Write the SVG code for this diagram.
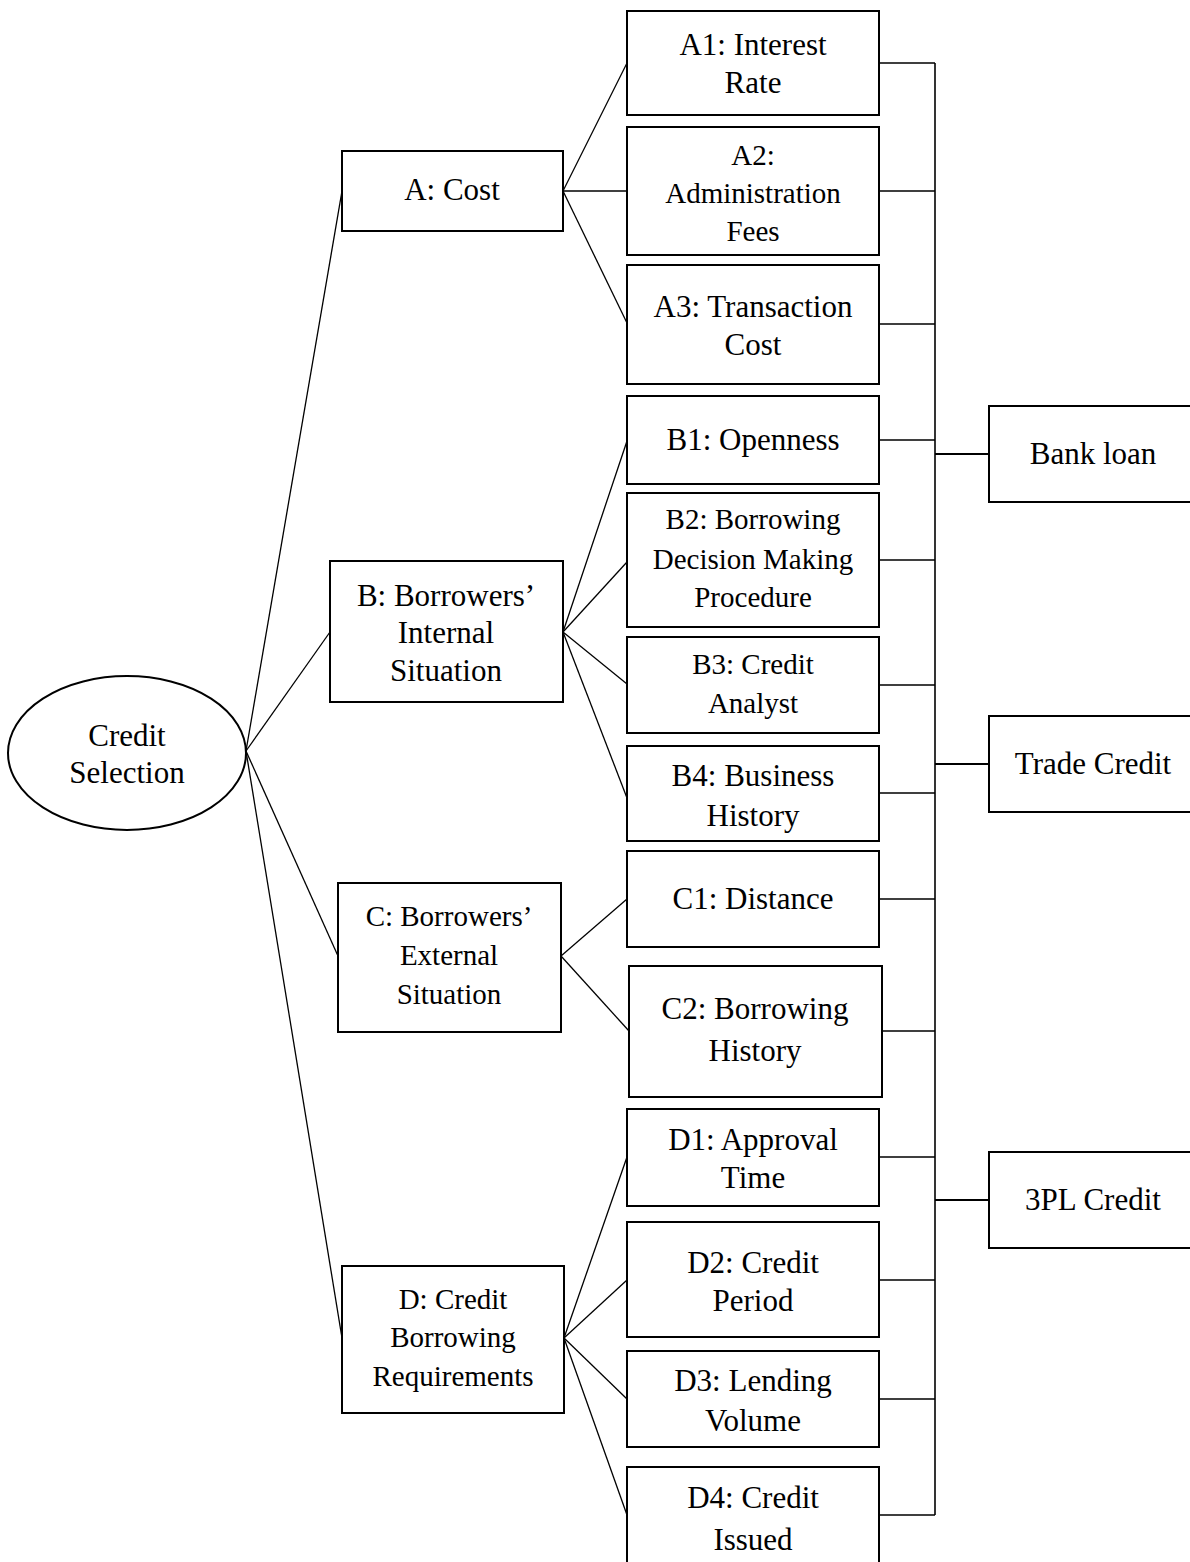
<svg xmlns="http://www.w3.org/2000/svg" width="1190" height="1562" viewBox="0 0 1190 1562">
  <style>
    .box { fill: #ffffff; stroke: #000000; stroke-width: 2; }
    .t { font-family: "Liberation Serif", "Times New Roman", serif; font-size: 31px; fill: #000000; text-anchor: middle; }
    .s { font-size: 29px; }
    .ln { stroke: #000000; stroke-width: 1.3; fill: none; }
  </style>
  <rect width="1190" height="1562" fill="#ffffff"/>

  <!-- connectors -->
  <g id="connectors" class="ln">
    <!-- root to criteria -->
    <line x1="246" y1="751" x2="342" y2="191"/>
    <line x1="246" y1="751" x2="330" y2="632"/>
    <line x1="246" y1="751" x2="338" y2="956"/>
    <line x1="246" y1="751" x2="342" y2="1338"/>
    <!-- A to sub-criteria -->
    <line x1="563" y1="191" x2="627" y2="63"/>
    <line x1="563" y1="191" x2="627" y2="191"/>
    <line x1="563" y1="191" x2="627" y2="323"/>
    <!-- B to sub-criteria -->
    <line x1="563" y1="632" x2="627" y2="441"/>
    <line x1="563" y1="632" x2="627" y2="562"/>
    <line x1="563" y1="632" x2="627" y2="684"/>
    <line x1="563" y1="632" x2="627" y2="798"/>
    <!-- C to sub-criteria -->
    <line x1="561" y1="956" x2="627" y2="899"/>
    <line x1="561" y1="956" x2="629" y2="1031"/>
    <!-- D to sub-criteria -->
    <line x1="564" y1="1338" x2="627" y2="1157"/>
    <line x1="564" y1="1338" x2="627" y2="1280"/>
    <line x1="564" y1="1338" x2="627" y2="1399"/>
    <line x1="564" y1="1338" x2="627" y2="1515"/>
    <!-- sub-criteria to bus -->
    <path d="M879 63H935 M879 191H935 M879 324H935 M879 440H935 M879 560H935 M879 685H935 M879 793H935 M879 899H935 M882 1031H935 M879 1157H935 M879 1280H935 M879 1399H935 M879 1515H935"/>
    <!-- vertical bus -->
    <line x1="935" y1="63" x2="935" y2="1515" stroke-width="1.6"/>
    <!-- bus to alternatives -->
    <path d="M935 454H989 M935 764H989 M935 1200H989" stroke-width="2"/>
  </g>

  <!-- goal -->
  <g id="goal">
    <ellipse class="box" cx="127" cy="753" rx="119" ry="77"/>
    <text class="t" x="127" y="746">Credit</text>
    <text class="t" x="127" y="783">Selection</text>
  </g>

  <!-- criteria -->
  <g id="A">
    <rect class="box" x="342" y="151" width="221" height="80"/>
    <text class="t" x="452" y="200">A: Cost</text>
  </g>
  <g id="B">
    <rect class="box" x="330" y="561" width="233" height="141"/>
    <text class="t" x="446" y="606">B: Borrowers’</text>
    <text class="t" x="446" y="643">Internal</text>
    <text class="t" x="446" y="681">Situation</text>
  </g>
  <g id="C">
    <rect class="box" x="338" y="883" width="223" height="149"/>
    <text class="t s" x="449" y="926">C: Borrowers’</text>
    <text class="t s" x="449" y="965">External</text>
    <text class="t s" x="449" y="1004">Situation</text>
  </g>
  <g id="D">
    <rect class="box" x="342" y="1266" width="222" height="147"/>
    <text class="t s" x="453" y="1309">D: Credit</text>
    <text class="t s" x="453" y="1347">Borrowing</text>
    <text class="t s" x="453" y="1386">Requirements</text>
  </g>

  <!-- sub-criteria -->
  <g id="A1">
    <rect class="box" x="627" y="11" width="252" height="104"/>
    <text class="t" x="753" y="55">A1: Interest</text>
    <text class="t" x="753" y="93">Rate</text>
  </g>
  <g id="A2">
    <rect class="box" x="627" y="127" width="252" height="128"/>
    <text class="t s" x="753" y="165">A2:</text>
    <text class="t s" x="753" y="203">Administration</text>
    <text class="t s" x="753" y="241">Fees</text>
  </g>
  <g id="A3">
    <rect class="box" x="627" y="265" width="252" height="119"/>
    <text class="t" x="753" y="317">A3: Transaction</text>
    <text class="t" x="753" y="355">Cost</text>
  </g>
  <g id="B1">
    <rect class="box" x="627" y="396" width="252" height="88"/>
    <text class="t" x="753" y="450">B1: Openness</text>
  </g>
  <g id="B2">
    <rect class="box" x="627" y="493" width="252" height="134"/>
    <text class="t s" x="753" y="529">B2: Borrowing</text>
    <text class="t s" x="753" y="569">Decision Making</text>
    <text class="t s" x="753" y="607">Procedure</text>
  </g>
  <g id="B3">
    <rect class="box" x="627" y="637" width="252" height="96"/>
    <text class="t s" x="753" y="674">B3: Credit</text>
    <text class="t s" x="753" y="713">Analyst</text>
  </g>
  <g id="B4">
    <rect class="box" x="627" y="746" width="252" height="95"/>
    <text class="t" x="753" y="786">B4: Business</text>
    <text class="t" x="753" y="826">History</text>
  </g>
  <g id="C1">
    <rect class="box" x="627" y="851" width="252" height="96"/>
    <text class="t" x="753" y="909">C1: Distance</text>
  </g>
  <g id="C2">
    <rect class="box" x="629" y="966" width="253" height="131"/>
    <text class="t" x="755" y="1019">C2: Borrowing</text>
    <text class="t" x="755" y="1061">History</text>
  </g>
  <g id="D1">
    <rect class="box" x="627" y="1109" width="252" height="97"/>
    <text class="t" x="753" y="1150">D1: Approval</text>
    <text class="t" x="753" y="1188">Time</text>
  </g>
  <g id="D2">
    <rect class="box" x="627" y="1222" width="252" height="115"/>
    <text class="t" x="753" y="1273">D2: Credit</text>
    <text class="t" x="753" y="1311">Period</text>
  </g>
  <g id="D3">
    <rect class="box" x="627" y="1351" width="252" height="96"/>
    <text class="t" x="753" y="1391">D3: Lending</text>
    <text class="t" x="753" y="1431">Volume</text>
  </g>
  <g id="D4">
    <rect class="box" x="627" y="1467" width="252" height="110"/>
    <text class="t" x="753" y="1508">D4: Credit</text>
    <text class="t" x="753" y="1550">Issued</text>
  </g>

  <!-- alternatives -->
  <g id="bank-loan">
    <rect class="box" x="989" y="406" width="210" height="96"/>
    <text class="t" x="1093" y="464">Bank loan</text>
  </g>
  <g id="trade-credit">
    <rect class="box" x="989" y="716" width="210" height="96"/>
    <text class="t" x="1093" y="774">Trade Credit</text>
  </g>
  <g id="3pl-credit">
    <rect class="box" x="989" y="1152" width="210" height="96"/>
    <text class="t" x="1093" y="1210">3PL Credit</text>
  </g>
</svg>
